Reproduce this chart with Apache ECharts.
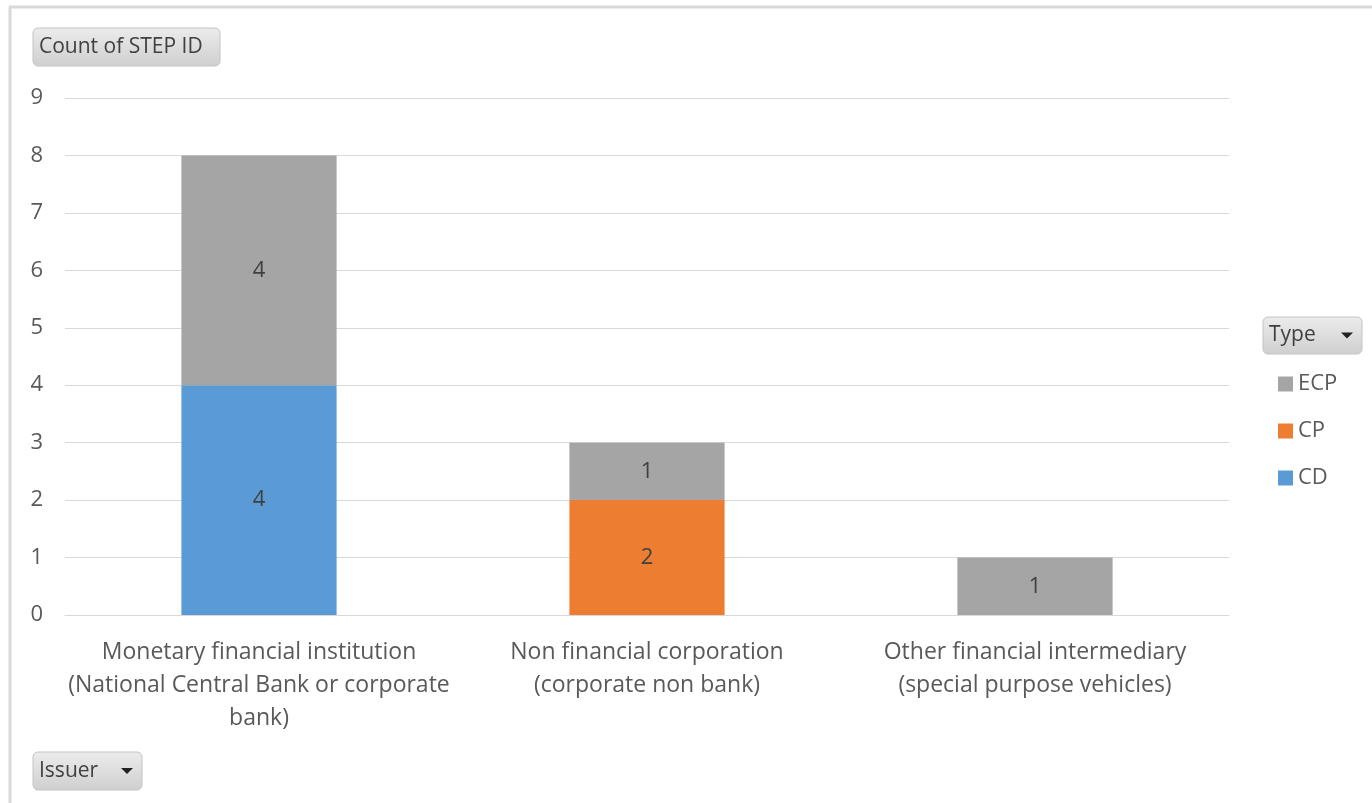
<!DOCTYPE html>
<html>
<head>
<meta charset="utf-8">
<script src="https://cdn.jsdelivr.net/npm/echarts@6/dist/echarts.min.js"></script>
<style>
  html, body { margin: 0; padding: 0; background: #fff; }
  #chart { width: 1372px; height: 803px; }
</style>
</head>
<body>
<div id="chart"></div>
<script>
// Issuer categories (x axis)
const issuers = [
  'Monetary financial institution\n(National Central Bank or corporate\nbank)',
  'Non financial corporation\n(corporate non bank)',
  'Other financial intermediary\n(special purpose vehicles)'
];
// Counts of STEP ID per type
const cdCounts  = [4, 0, 0];
const cpCounts  = [0, 2, 0];
const ecpCounts = [4, 1, 1];
const typeOrder = ['ECP', 'CP', 'CD'];

const FONT = '"Open Sans", Lato, sans-serif';
const labelStyle = {
  show: true,
  position: 'inside',
  color: '#404040',
  fontSize: 22,
  fontFamily: FONT,
  formatter: p => (p.value ? String(p.value) : '')
};

function bar(name, data, color) {
  return {
    name, type: 'bar', stack: 'total', data,
    barWidth: '40%',
    itemStyle: { color },
    label: labelStyle,
    emphasis: { disabled: true }
  };
}

// Pivot-style field button with gradient fill
function fieldButton(x, y, w, h, text, arrow) {
  const children = [
    {
      type: 'rect',
      shape: { x: 0, y: 0, width: w, height: h, r: 5 },
      style: {
        fill: new echarts.graphic.LinearGradient(0, 0, 0, 1, [
          { offset: 0, color: '#ececec' },
          { offset: 1, color: '#cfcfcf' }
        ]),
        stroke: '#c4c4c4', lineWidth: 1
      }
    },
    {
      type: 'text',
      style: { x: 6, y: h / 2, text, fill: '#404040', font: '21px ' + FONT, verticalAlign: 'middle' }
    }
  ];
  if (arrow) {
    children.push({
      type: 'polygon',
      shape: { points: [[w - 21, h / 2 - 3], [w - 9, h / 2 - 3], [w - 15, h / 2 + 3]] },
      style: { fill: '#222' }
    });
  }
  return { type: 'group', x, y, children };
}

const chart = echarts.init(document.getElementById('chart'), null, { renderer: 'canvas' });
chart.setOption({
  animation: false,
  backgroundColor: '#fff',
  grid: { left: 65, right: 143, top: 98, bottom: 188 },
  legend: {
    orient: 'vertical',
    left: 1273, top: 368,
    itemWidth: 15, itemHeight: 15, itemGap: 25,
    icon: 'rect',
    data: typeOrder,
    textStyle: { color: '#595959', fontSize: 22, fontFamily: FONT },
    selectedMode: false
  },
  xAxis: {
    type: 'category',
    data: issuers,
    axisLine: { lineStyle: { color: '#d9d9d9', width: 1 } },
    axisTick: { show: false },
    axisLabel: { color: '#595959', fontSize: 23, fontFamily: FONT, lineHeight: 33, margin: 21, interval: 0 }
  },
  yAxis: {
    type: 'value',
    min: 0, max: 9, interval: 1,
    axisLine: { show: false },
    axisTick: { show: false },
    splitLine: { lineStyle: { color: '#d9d9d9', width: 1 } },
    axisLabel: { color: '#595959', fontSize: 22, fontFamily: FONT, margin: 22 }
  },
  series: [
    bar('CD', cdCounts, '#5B9BD5'),
    bar('CP', cpCounts, '#ED7D31'),
    bar('ECP', ecpCounts, '#A5A5A5')
  ],
  graphic: [
    { type: 'line', shape: { x1: 10, y1: 7, x2: 10, y2: 803 }, style: { stroke: '#d9d9d9', lineWidth: 3 } },
    { type: 'line', shape: { x1: 9, y1: 7, x2: 1372, y2: 7 }, style: { stroke: '#d9d9d9', lineWidth: 3 } },
    fieldButton(33, 28, 187, 38, 'Count of STEP ID', false),
    fieldButton(1263, 317, 99, 37, 'Type', true),
    fieldButton(33, 752, 109, 38, 'Issuer', true)
  ]
});
</script>
</body>
</html>
